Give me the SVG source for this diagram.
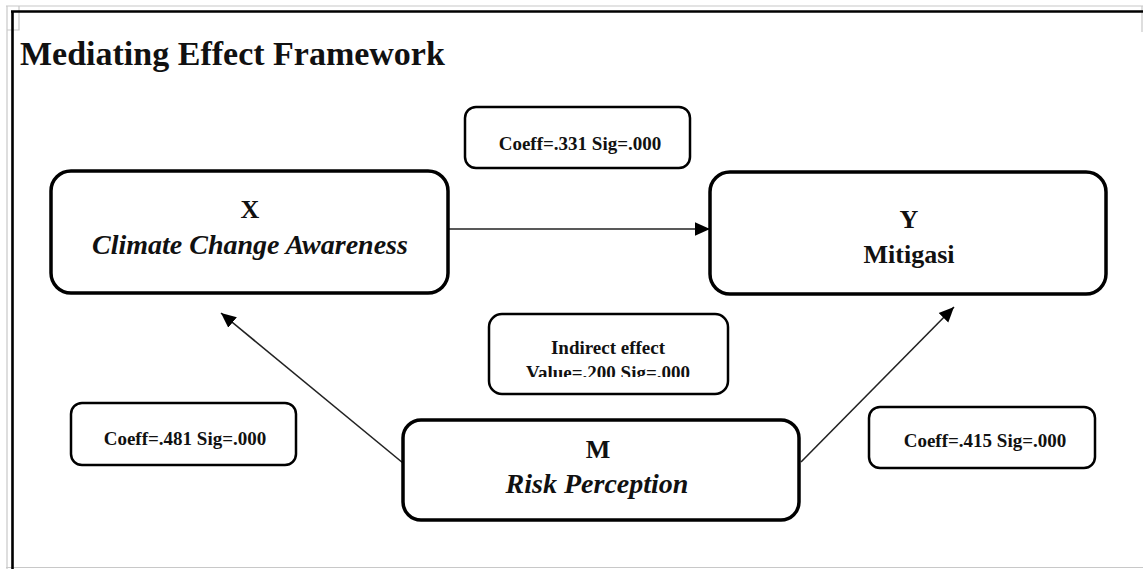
<svg xmlns="http://www.w3.org/2000/svg" width="1143" height="569" viewBox="0 0 1143 569">
<style>
text{font-family:"Liberation Serif","Times New Roman",serif;font-weight:bold;fill:#111;text-anchor:middle}
.big{stroke:#000;stroke-width:3.5;fill:#fff}
.small{stroke:#000;stroke-width:2.5;fill:#fff}
.lbl{font-size:26px}
.it{font-size:28px;font-style:italic}
.val{font-size:19px}
.conn{stroke:#222;stroke-width:1.6;fill:none}
.gray{stroke:#c8c8c8;stroke-width:1.2;fill:none}
</style>
<defs>
<marker id="ah" viewBox="0 0 10 10" refX="10" refY="5" markerWidth="15" markerHeight="15" markerUnits="userSpaceOnUse" orient="auto">
<path d="M0,0.5 L10,5 L0,9.5 Z" fill="#000"/>
</marker>
<clipPath id="clipInd"><rect x="489" y="314" width="240" height="63"/></clipPath>
</defs>
<rect x="0" y="0" width="1143" height="569" fill="#fff"/>
<g id="frame">
<path class="gray" d="M6,6 H1143 M7,6 V569 M1142,6 V32 M6,567.5 H1143 M19,6 V30 H7"/>
<path d="M11,11.5 H1143 M12.5,11 V569" stroke="#000" stroke-width="2.6" fill="none"/>
</g>
<text id="title" x="20" y="65" style="font-size:34px;text-anchor:start">Mediating Effect Framework</text>
<g id="connectors">
<line class="conn" x1="449" y1="229" x2="710" y2="229" marker-end="url(#ah)"/>
<line class="conn" x1="403" y1="463" x2="221" y2="313" marker-end="url(#ah)"/>
<line class="conn" x1="801" y1="462" x2="954" y2="307" marker-end="url(#ah)"/>
</g>
<g id="nodeX">
<rect class="big" x="51" y="171" width="397" height="122" rx="20"/>
<text class="lbl" x="250" y="218">X</text>
<text class="it" x="250" y="254">Climate Change Awareness</text>
</g>
<g id="nodeY">
<rect class="big" x="710" y="172" width="396" height="122" rx="20"/>
<text class="lbl" x="909" y="228">Y</text>
<text class="lbl" x="909" y="263">Mitigasi</text>
</g>
<g id="nodeM">
<rect class="big" x="403" y="420" width="396" height="100" rx="18"/>
<text class="lbl" x="598" y="458">M</text>
<text class="it" x="597" y="493">Risk Perception</text>
</g>
<g id="labelXY">
<rect class="small" x="465" y="107" width="225" height="61" rx="11"/>
<text class="val" x="580" y="150">Coeff=.331 Sig=.000</text>
</g>
<g id="labelIndirect">
<rect class="small" x="489" y="314" width="239" height="80" rx="13"/>
<text class="val" x="608" y="354">Indirect effect</text>
<text class="val" x="608" y="379" clip-path="url(#clipInd)">Value=.200 Sig=.000</text>
</g>
<g id="labelMX">
<rect class="small" x="71" y="403" width="225" height="62" rx="11"/>
<text class="val" x="185" y="445">Coeff=.481 Sig=.000</text>
</g>
<g id="labelMY">
<rect class="small" x="869" y="407" width="226" height="61" rx="11"/>
<text class="val" x="985" y="447">Coeff=.415 Sig=.000</text>
</g>
</svg>
